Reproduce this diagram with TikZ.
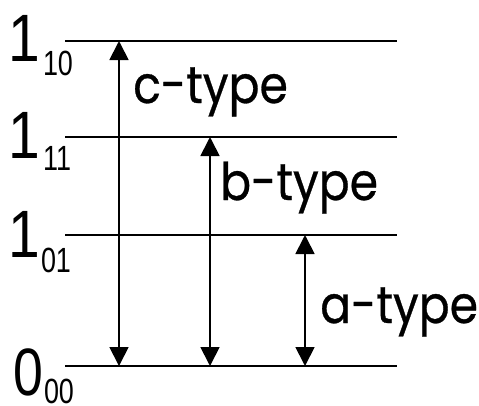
\documentclass[tikz,border=0pt]{standalone}
\usepackage{fontspec}
\setmainfont{Poppins}
\newfontfamily\digitfont{Liberation Sans}
\usetikzlibrary{arrows.meta}
\newcommand{\narrow}[2]{\scalebox{#1}[1]{#2}}
\begin{document}
\begin{tikzpicture}[x=1pt,y=-1pt,
  level/.style={line width=2.6pt},
  trans/.style={line width=1.8pt,{Triangle[width=19pt,length=19pt]}-{Triangle[width=19pt,length=19pt]}},
  big/.style={inner sep=0pt,anchor=base,font=\digitfont\fontsize{67}{67}\selectfont},
  sub/.style={inner sep=0pt,anchor=base,font=\digitfont\fontsize{35}{35}\selectfont},
  tlabel/.style={inner sep=0pt,anchor=base west,font=\addfontfeature{FakeBold=0.6}\fontsize{52}{52}\selectfont}]
\useasboundingbox (0,0) rectangle (479,405);
% energy levels
\coordinate (L10w) at (65,41);  \coordinate (L10e) at (397,41);
\coordinate (L11w) at (65,137); \coordinate (L11e) at (397,137);
\coordinate (L01w) at (65,235); \coordinate (L01e) at (397,235);
\coordinate (L00w) at (65,366); \coordinate (L00e) at (397,366);
\draw[level] (L10w) -- (L10e);
\draw[level] (L11w) -- (L11e);
\draw[level] (L01w) -- (L01e);
\draw[level] (L00w) -- (L00e);
% level names
\node[big] (n10) at (24,61) {\narrow{0.85}{1}};  \node[sub] (s10) at (58,75) {\narrow{0.77}{10}};
\node[big] (n11) at (24,158) {\narrow{0.85}{1}}; \node[sub] (s11) at (57,170) {\narrow{0.77}{11}};
\node[big] (n01) at (24,257) {\narrow{0.85}{1}}; \node[sub] (s01) at (56,272) {\narrow{0.77}{01}};
\node[big] (n00) at (28,395) {\narrow{0.8}{0}}; \node[sub] (s00) at (59,403) {\narrow{0.77}{00}};
% transitions
\coordinate (ct) at (119,41);  \coordinate (cb) at (119,366);
\coordinate (bt) at (210,137); \coordinate (bb) at (210,366);
\coordinate (at) at (305,235); \coordinate (ab) at (305,366);
\draw[trans] (ct) -- (cb);
\draw[trans] (bt) -- (bb);
\draw[trans] (at) -- (ab);
\node[tlabel] (lc) at (133,103) {\narrow{0.88}{c-type}};
\node[tlabel] (lb) at (220,200) {\narrow{0.88}{b-type}};
\node[tlabel] (la) at (320,323) {\narrow{0.88}{a-type}};
\end{tikzpicture}
\end{document}
